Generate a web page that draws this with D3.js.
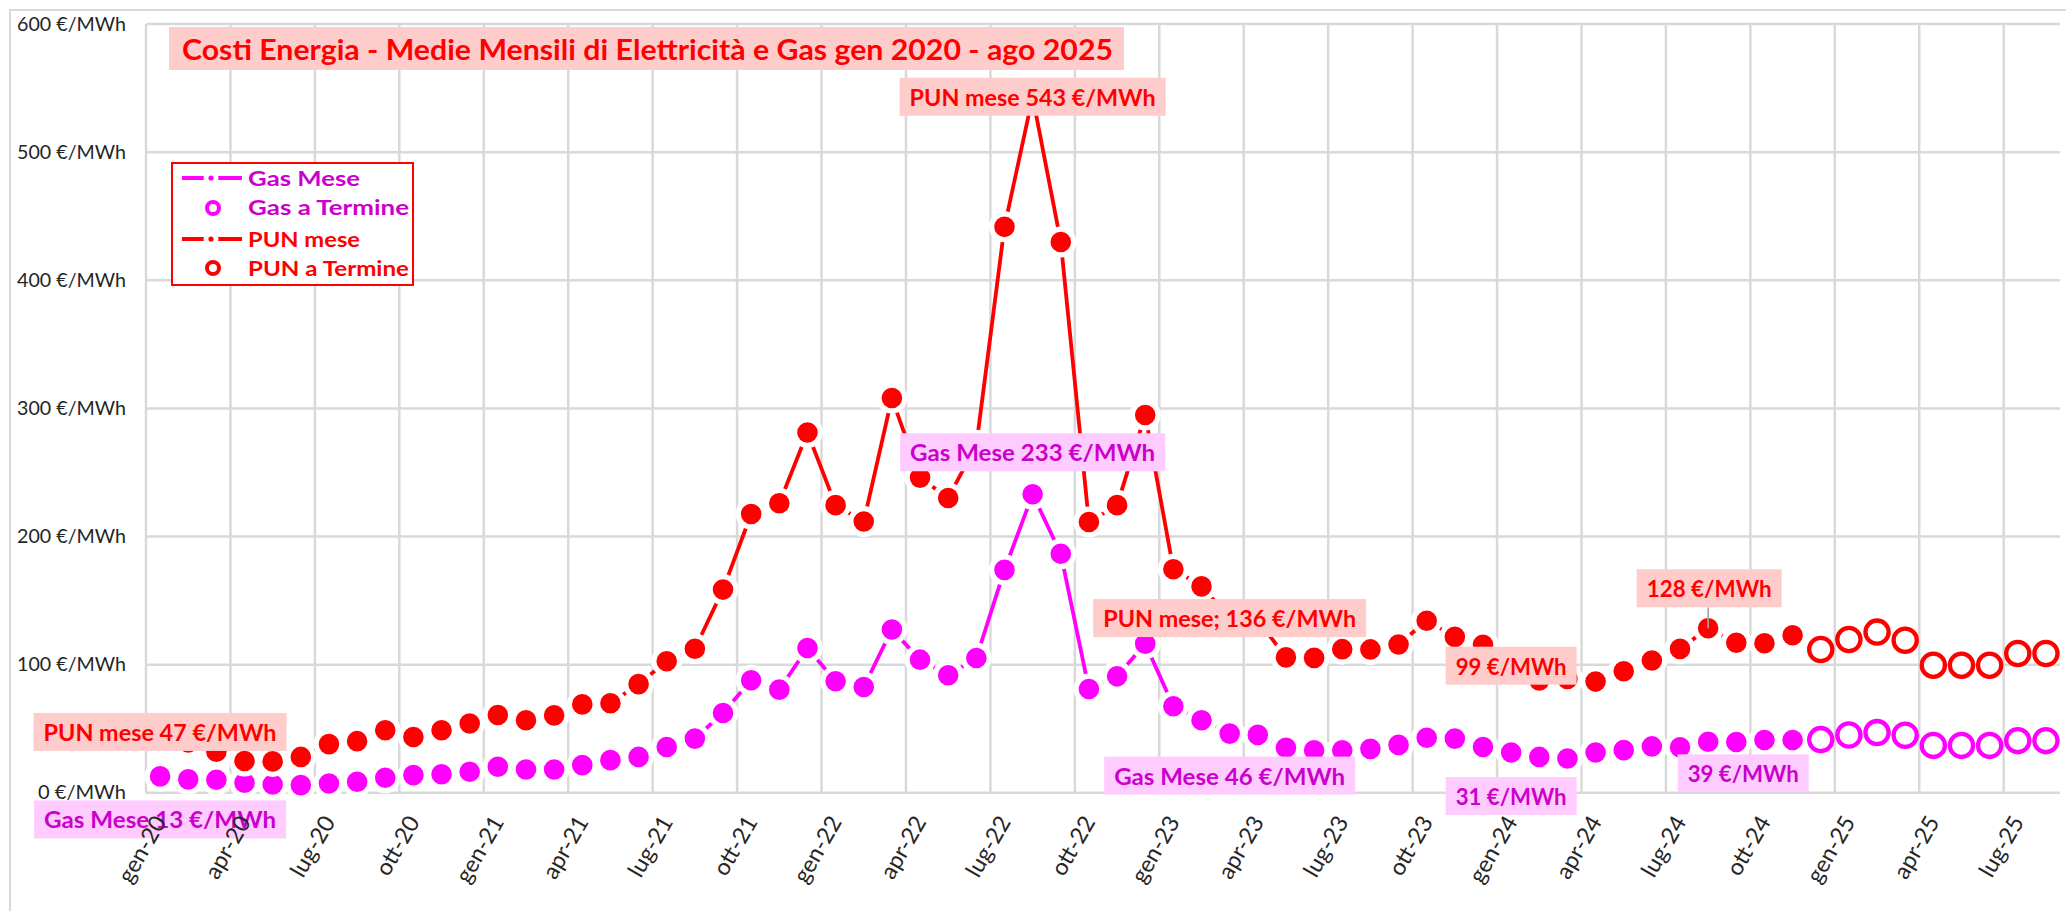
<!DOCTYPE html>
<html><head><meta charset="utf-8">
<script src="https://cdn.jsdelivr.net/npm/d3@7"></script>
<style>body{margin:0;background:#fff;}svg{display:block;}</style>
</head><body>
<svg id="c" width="2066" height="911"></svg>
<script>
// ---------- DATA ----------
const categories = [
 "gen-20","feb-20","mar-20","apr-20","mag-20","giu-20","lug-20","ago-20","set-20","ott-20","nov-20","dic-20",
 "gen-21","feb-21","mar-21","apr-21","mag-21","giu-21","lug-21","ago-21","set-21","ott-21","nov-21","dic-21",
 "gen-22","feb-22","mar-22","apr-22","mag-22","giu-22","lug-22","ago-22","set-22","ott-22","nov-22","dic-22",
 "gen-23","feb-23","mar-23","apr-23","mag-23","giu-23","lug-23","ago-23","set-23","ott-23","nov-23","dic-23",
 "gen-24","feb-24","mar-24","apr-24","mag-24","giu-24","lug-24","ago-24","set-24","ott-24","nov-24","dic-24",
 "gen-25","feb-25","mar-25","apr-25","mag-25","giu-25","lug-25","ago-25"];
// monthly actuals gen-20 .. nov-24
const punMese = [
 47.5,39.3,32.0,24.8,24.5,28.0,38.0,40.3,48.8,43.6,48.8,54.1,
 60.7,56.6,60.4,69.0,69.9,84.8,102.7,112.4,158.6,217.6,226.0,281.2,
 224.5,211.7,308.1,246.0,230.1,271.3,441.7,543.2,429.9,211.3,224.5,294.9,
 174.5,161.1,136.4,135.0,105.7,105.3,112.1,111.9,115.7,134.3,121.7,115.5,
 99.2,87.6,88.9,86.8,94.9,103.2,112.3,128.4,117.1,116.7,122.9];
const gasMese = [
 12.8,10.5,10.2,7.8,6.5,6.0,7.3,8.6,11.7,13.8,14.5,16.4,
 20.3,18.2,18.2,21.6,25.5,28.0,35.8,42.3,62.3,87.8,80.5,113.0,
 87.0,82.6,127.5,103.9,91.7,105.2,174.0,233.0,186.6,81.0,90.9,116.4,
 67.6,56.6,46.2,45.2,35.2,33.2,33.2,34.3,37.4,43.0,42.3,35.8,
 31.4,28.0,26.8,31.5,33.3,36.2,35.5,39.8,39.6,41.2,41.2];
// forward prices dic-24 .. ago-25
const punTermine = [111.8,119.6,125.4,119.1,99.6,99.6,99.6,108.7,108.7];
const gasTermine = [41.5,45.1,47.0,44.9,37.0,37.0,37.0,40.7,40.7];
const yTicks = [0,100,200,300,400,500,600];
const xTickLabels = ["gen-20","apr-20","lug-20","ott-20","gen-21","apr-21","lug-21","ott-21",
 "gen-22","apr-22","lug-22","ott-22","gen-23","apr-23","lug-23","ott-23",
 "gen-24","apr-24","lug-24","ott-24","gen-25","apr-25","lug-25"];
const titleText = "Costi Energia - Medie Mensili di Elettricità e Gas gen 2020 - ago 2025";
const legendItems = ["Gas Mese","Gas a Termine","PUN mese","PUN a Termine"];

// ---------- STYLE ----------
const FONT = "Lato, 'Open Sans', sans-serif";
const RED = "#ff0000", MAG = "#ff00ff", MAGTXT = "#cc00cc";
const REDBG = "#ffcccc", MAGBG = "#ffccff", GRID = "#d9d9d9";

const svg = d3.select("#c");
svg.append("rect").attr("width",2066).attr("height",911).attr("fill","#fff");

const x = d3.scaleBand().domain(categories).range([146, 2060]);
const y = d3.scaleLinear().domain([0, 600]).range([792.8, 24]);
const cx = m => x(m) + x.bandwidth() / 2;

// chart border
svg.append("path").attr("d", "M10,911 V10 H2066").attr("fill", "none")
  .attr("stroke", GRID).attr("stroke-width", 2);

// grid
const grid = svg.append("g");
grid.selectAll("line.h").data(yTicks).join("line").attr("class", "h")
  .attr("x1", 146).attr("x2", 2060).attr("y1", d => y(d)).attr("y2", d => y(d))
  .attr("stroke", GRID).attr("stroke-width", 2.5);
grid.selectAll("line.v").data(xTickLabels).join("line").attr("class", "v")
  .attr("x1", d => x(d)).attr("x2", d => x(d)).attr("y1", y(600)).attr("y2", y(0))
  .attr("stroke", GRID).attr("stroke-width", 2.5);

// y axis labels
const yAxis = svg.append("g").attr("transform", "translate(146,0)")
  .call(d3.axisLeft(y).tickValues(yTicks).tickSize(0).tickPadding(20).tickFormat(d => d + " €/MWh"));
yAxis.select(".domain").remove();
yAxis.selectAll("text").attr("font-size", 19).attr("font-family", FONT).attr("fill", "#262626")
  .attr("textLength", d => 109 - (3 - String(d).length) * 10.5)
  .attr("lengthAdjust", "spacingAndGlyphs");

// series helpers
const mese = (vals) => vals.map((v, i) => ({ m: categories[i], v }));
const termine = (vals) => vals.map((v, i) => ({ m: categories[59 + i], v }));
const line = d3.line().x(d => cx(d.m)).y(d => y(d.v));

function drawActual(vals, color) {
  const data = mese(vals);
  svg.append("path").datum(data).attr("d", line).attr("fill", "none")
    .attr("stroke", color).attr("stroke-width", 3.8).attr("stroke-linejoin", "round");
  svg.append("g").selectAll("circle").data(data).join("circle")
    .attr("cx", d => cx(d.m)).attr("cy", d => y(d.v)).attr("r", 12.9)
    .attr("fill", color).attr("stroke", "#fff").attr("stroke-width", 5.2);
}
function drawForward(vals, color) {
  svg.append("g").selectAll("circle").data(termine(vals)).join("circle")
    .attr("cx", d => cx(d.m)).attr("cy", d => y(d.v)).attr("r", 11.6)
    .attr("fill", "#fff").attr("stroke", color).attr("stroke-width", 4.3);
}
drawActual(gasMese, MAG);
drawForward(gasTermine, MAG);
drawActual(punMese, RED);
drawForward(punTermine, RED);

// legend
const lg = svg.append("g");
lg.append("rect").attr("x", 172).attr("y", 163).attr("width", 241).attr("height", 122)
  .attr("fill", "#fff").attr("stroke", RED).attr("stroke-width", 2);
const legRows = [
  { t: legendItems[0], c: MAG, tc: MAGTXT, type: "line", yy: 178, by: 186 },
  { t: legendItems[1], c: MAG, tc: MAGTXT, type: "ring", yy: 208, by: 215 },
  { t: legendItems[2], c: RED, tc: RED, type: "line", yy: 239, by: 246.5 },
  { t: legendItems[3], c: RED, tc: RED, type: "ring", yy: 268, by: 276 }];
legRows.forEach(r => {
  if (r.type === "line") {
    lg.append("line").attr("x1", 182).attr("x2", 242).attr("y1", r.yy).attr("y2", r.yy)
      .attr("stroke", r.c).attr("stroke-width", 4);
    lg.append("circle").attr("cx", 211).attr("cy", r.yy).attr("r", 7.5).attr("fill", "#fff");
    lg.append("circle").attr("cx", 211).attr("cy", r.yy).attr("r", 2.6).attr("fill", r.c);
  } else {
    lg.append("circle").attr("cx", 213).attr("cy", r.yy).attr("r", 6)
      .attr("fill", "#fff").attr("stroke", r.c).attr("stroke-width", 4);
  }
  lg.append("text").attr("x", 248).attr("y", r.by).text(r.t)
    .attr("font-family", FONT).attr("font-weight", "bold").attr("font-size", 21)
    .attr("fill", r.tc).attr("textLength", r.t.length > 9 ? 161 : 112)
    .attr("lengthAdjust", "spacingAndGlyphs");
});

// data labels (anchored to data points)
const labelDefs = [
  { s: "pun", m: "gen-20", t: "PUN mese 47 €/MWh", dx: 0, dy: 0, w: 253 },
  { s: "gas", m: "gen-20", t: "Gas Mese 13 €/MWh", dx: 0, dy: 43, w: 252 },
  { s: "pun", m: "ago-22", t: "PUN mese 543 €/MWh", dx: 0, dy: 0, w: 266 },
  { s: "gas", m: "ago-22", t: "Gas Mese 233 €/MWh", dx: 0, dy: -42, w: 265 },
  { s: "pun", m: "mar-23", t: "PUN mese; 136 €/MWh", dx: 0, dy: 0, w: 273 },
  { s: "gas", m: "mar-23", t: "Gas Mese 46 €/MWh", dx: 0, dy: 42, w: 251 },
  { s: "pun", m: "gen-24", t: "99 €/MWh", dx: 0, dy: 0, w: 131 },
  { s: "gas", m: "gen-24", t: "31 €/MWh", dx: 0, dy: 43.5, w: 131 },
  { s: "pun", m: "ago-24", t: "128 €/MWh", dx: 1, dy: -40, w: 145, leader: true },
  { s: "gas", m: "ago-24", t: "39 €/MWh", dx: 35, dy: 31.5, w: 131 }];
const lab = svg.append("g");
labelDefs.forEach(L => {
  const vals = L.s === "pun" ? punMese : gasMese;
  const v = vals[categories.indexOf(L.m)];
  const px = cx(L.m), py = y(v);
  const bx = px + L.dx, by = py + L.dy;
  if (L.leader) {
    lab.append("line").attr("x1", px).attr("x2", px).attr("y1", by + 19).attr("y2", py)
      .attr("stroke", "#a6a6a6").attr("stroke-width", 1.6);
  }
  lab.append("rect").attr("x", bx - L.w / 2).attr("y", by - 19).attr("width", L.w).attr("height", 38)
    .attr("fill", L.s === "pun" ? REDBG : MAGBG);
  lab.append("text").attr("x", bx).attr("y", by + 9).attr("text-anchor", "middle").text(L.t)
    .attr("font-family", FONT).attr("font-weight", "bold").attr("font-size", 23)
    .attr("fill", L.s === "pun" ? RED : MAGTXT)
    .attr("textLength", L.w - 20).attr("lengthAdjust", "spacingAndGlyphs");
});

// title
svg.append("rect").attr("x", 169).attr("y", 27).attr("width", 955).attr("height", 43).attr("fill", REDBG);
svg.append("text").attr("x", 182).attr("y", 60).text(titleText)
  .attr("font-family", FONT).attr("font-weight", "bold").attr("font-size", 29).attr("fill", RED)
  .attr("textLength", 931).attr("lengthAdjust", "spacingAndGlyphs");

// x axis labels (on top)
const xAxis = svg.append("g").attr("transform", `translate(0,${y(0)})`)
  .call(d3.axisBottom(x).tickValues(xTickLabels).tickSize(0));
xAxis.select(".domain").remove();
const xt = xAxis.selectAll("text").attr("y", 0).attr("dy", 0).attr("text-anchor", "end")
  .attr("transform", "translate(7,29) rotate(-60)")
  .attr("font-size", 23).attr("font-family", FONT).attr("fill", "#262626");
const widths = xt.nodes().map(n => n.getComputedTextLength());
const k = 68 / d3.mean(widths);
xt.each(function (d, i) {
  d3.select(this).attr("textLength", widths[i] * k).attr("lengthAdjust", "spacingAndGlyphs");
});
</script>
</body></html>
